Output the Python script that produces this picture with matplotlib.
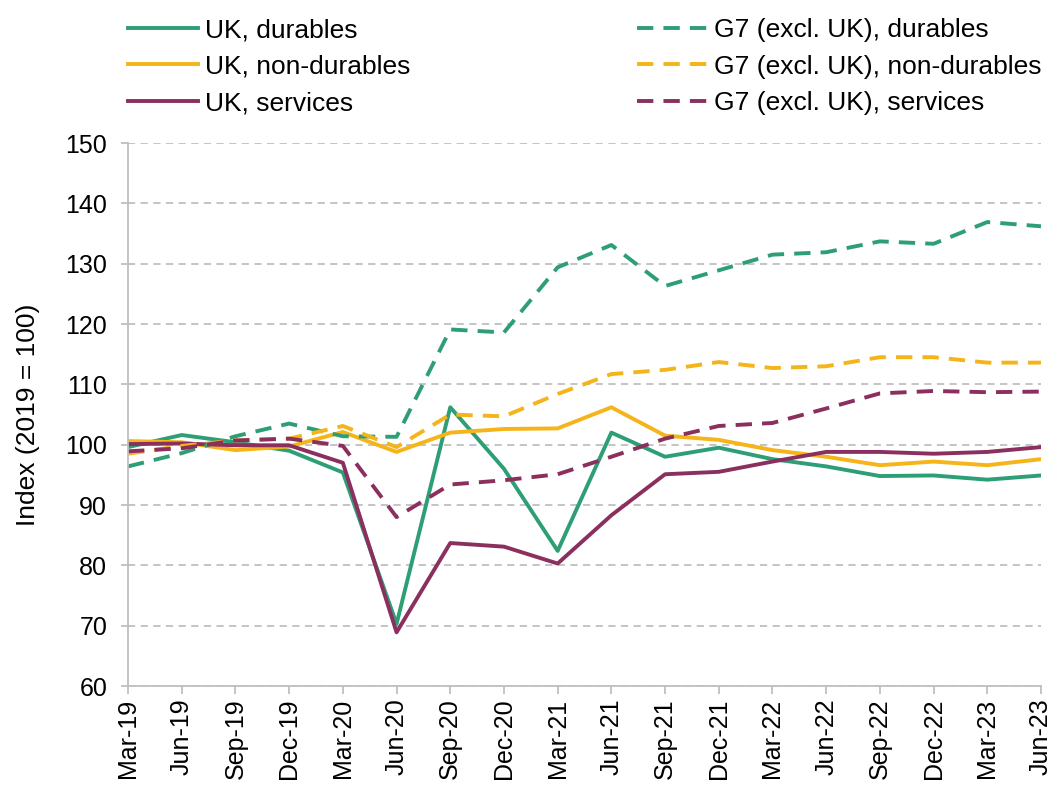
import matplotlib
matplotlib.use("Agg")
import matplotlib.pyplot as plt

plt.rcParams['font.family'] = ['Liberation Sans', 'DejaVu Sans']

quarters = ['Mar-19', 'Jun-19', 'Sep-19', 'Dec-19', 'Mar-20', 'Jun-20', 'Sep-20', 'Dec-20',
            'Mar-21', 'Jun-21', 'Sep-21', 'Dec-21', 'Mar-22', 'Jun-22', 'Sep-22', 'Dec-22',
            'Mar-23', 'Jun-23']

uk_durables = [99.6, 101.6, 100.4, 99.0, 95.4, 70.3, 106.2, 96.0, 82.4, 102.0, 98.0, 99.5,
               97.6, 96.4, 94.8, 94.9, 94.2, 94.9]
uk_nondurables = [100.6, 100.4, 99.1, 99.7, 102.1, 98.8, 102.0, 102.6, 102.7, 106.2, 101.5, 100.8,
                  99.1, 98.0, 96.6, 97.2, 96.6, 97.6]
uk_services = [100.1, 100.2, 99.9, 99.9, 97.0, 68.9, 83.7, 83.1, 80.3, 88.3, 95.1, 95.5,
               97.2, 98.8, 98.8, 98.5, 98.8, 99.6]
g7_durables = [96.4, 98.6, 101.4, 103.5, 101.4, 101.3, 119.1, 118.6, 129.4, 133.1, 126.3, 128.9,
               131.5, 131.9, 133.7, 133.3, 136.9, 136.2]
g7_nondurables = [98.5, 99.8, 100.7, 101.0, 103.1, 99.6, 105.0, 104.7, 108.4, 111.7, 112.4, 113.7,
                  112.7, 113.0, 114.5, 114.5, 113.6, 113.6]
g7_services = [98.9, 99.4, 100.7, 101.0, 99.8, 88.0, 93.4, 94.1, 95.1, 98.0, 101.0, 103.1,
               103.6, 106.0, 108.5, 108.9, 108.7, 108.8]

green = '#2E9E75'
yellow = '#F4B41A'
purple = '#8A2F5E'

fig = plt.figure(figsize=(10.53, 7.85), dpi=100)
ax = fig.add_axes([0.1216, 0.1261, 0.8670, 0.6917])

x = range(len(quarters))
lw = 2.8
dash = (4.2, 2.6)
l1, = ax.plot(x, uk_durables, color=green, lw=lw, label='UK, durables')
l2, = ax.plot(x, uk_nondurables, color=yellow, lw=lw, label='UK, non-durables')
l3, = ax.plot(x, uk_services, color=purple, lw=lw, label='UK, services')
d1, = ax.plot(x, g7_durables, color=green, lw=lw, dashes=dash, label='G7 (excl. UK), durables')
d2, = ax.plot(x, g7_nondurables, color=yellow, lw=lw, dashes=dash, label='G7 (excl. UK), non-durables')
d3, = ax.plot(x, g7_services, color=purple, lw=lw, dashes=dash, label='G7 (excl. UK), services')

ax.set_xlim(0, len(quarters) - 1)
ax.set_ylim(60, 150)
ax.set_yticks(range(60, 151, 10))
ax.set_xticks(list(x))
ax.set_xticklabels(quarters, rotation=90)
ax.tick_params(axis='y', length=5, color='#bfbfbf', width=1.3, labelsize=18, pad=10)
ax.tick_params(axis='x', length=6, color='#bfbfbf', width=1.3, labelsize=18, pad=3)

ax.grid(axis='y', color='#bfbfbf', lw=1.3, dashes=(4, 3))
ax.set_axisbelow(True)
for s in ['top', 'right']:
    ax.spines[s].set_visible(False)
for s in ['left', 'bottom']:
    ax.spines[s].set_color('#bfbfbf')
    ax.spines[s].set_linewidth(1.3)

ax.set_ylabel('Index (2019 = 100)', fontsize=19, labelpad=18)

leg_kw = dict(frameon=False, fontsize=19, handlelength=2.65, handletextpad=0.27,
              labelspacing=0.48, borderaxespad=0, borderpad=0)
fig.legend(handles=[l1, l2, l3], loc='upper left', bbox_to_anchor=(0.1216, 0.977), **leg_kw)
fig.legend(handles=[d1, d2, d3], loc='upper left', bbox_to_anchor=(0.605, 0.977), **leg_kw)

fig.savefig('out.png', dpi=100)
